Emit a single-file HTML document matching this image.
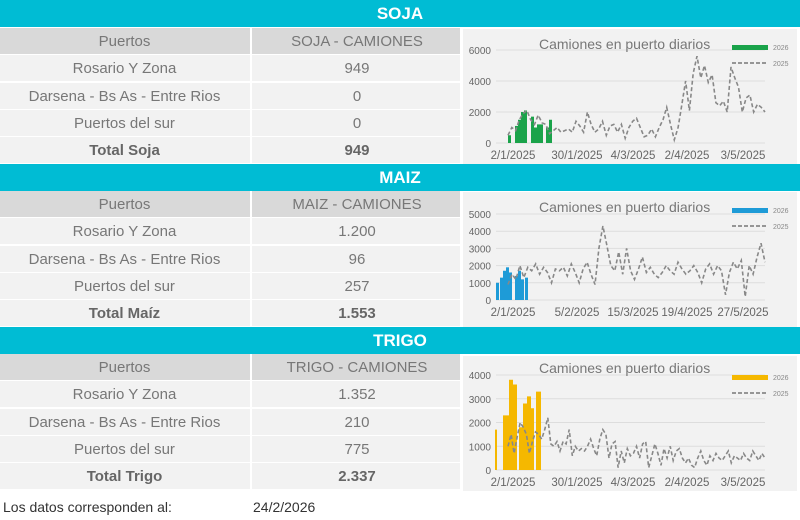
<!DOCTYPE html>
<html><head><meta charset="utf-8"><style>
body{margin:0;width:800px;height:520px;background:#fff;font-family:"Liberation Sans",sans-serif;position:relative;overflow:hidden}
.bar{position:absolute;left:0;width:800px;height:27px;background:#00bcd4;color:#fff;font-weight:bold;font-size:17px;line-height:28px}
.bar span{position:absolute;left:0;width:800px;text-align:center}
.row{position:absolute;left:0;width:460px;height:26px;font-size:15px;color:#777;line-height:27px;border-bottom:1px solid #fff;background:#f2f2f2}
.row div{position:absolute;top:0;text-align:center}
.row .a{left:0;width:249px}.row .b{left:250px;width:210px;border-left:2px solid #fff}
.hd{background:#d9d9d9;color:#777}
.tot{font-weight:bold;color:#666}
.chart{position:absolute;left:463px;width:334px;background:#f2f2f2}
svg text{font-family:"Liberation Sans",sans-serif}
</style></head><body>
<div class="bar" style="top:0"><span>SOJA</span></div>
<div class="bar" style="top:164px"><span>MAIZ</span></div>
<div class="bar" style="top:327px"><span>TRIGO</span></div>
<div id="tables"></div>
<div style="position:absolute;left:3px;top:499px;font-size:14px;color:#333">Los datos corresponden al:</div>
<div style="position:absolute;left:253px;top:499px;font-size:14px;color:#333">24/2/2026</div>
<div class="chart" style="top:29px;height:135px"><svg id="c1" width="334" height="135"></svg></div>
<div class="chart" style="top:192px;height:135px"><svg id="c2" width="334" height="135"></svg></div>
<div class="chart" style="top:356px;height:135px"><svg id="c3" width="334" height="135"></svg></div>
<script>
var T=[[28,"SOJA - CAMIONES",["949","0","0","949"],"Total Soja"],[191,"MAIZ - CAMIONES",["1.200","96","257","1.553"],"Total Maíz"],[354,"TRIGO - CAMIONES",["1.352","210","775","2.337"],"Total Trigo"]];
var names=["Rosario Y Zona","Darsena - Bs As - Entre Rios","Puertos del sur"];
var h="";
T.forEach(function(t){var y=t[0];
h+='<div class="row hd" style="top:'+y+'px"><div class="a">Puertos</div><div class="b">'+t[1]+'</div></div>';
for(var i=0;i<4;i++){y+=27.3;h+='<div class="row'+(i==3?' tot':'')+'" style="top:'+y+'px"><div class="a">'+(i==3?t[3]:names[i])+'</div><div class="b">'+t[2][i]+'</div></div>';}
});
document.getElementById("tables").innerHTML=h;
function chart(id,ticks,max,y0,y1,xl,col,vals,bars){
var s=document.getElementById(id),o="";var x0=33,x1=302;
ticks.forEach(function(v){var y=y0-(y0-y1)*v/max;o+='<line x1="'+x0+'" x2="'+x1+'" y1="'+y+'" y2="'+y+'" stroke="#ddd"/><text x="28" y="'+(y+4)+'" font-size="10" fill="#666" text-anchor="end">'+v+'</text>';});
var xs=[x0-8,x0+56,x0+112,x0+166,x0+222];xl.forEach(function(l,i){o+='<text x="'+(xs[i]+25)+'" y="'+(y0+16)+'" font-size="11.5" fill="#666" text-anchor="middle">'+l+'</text>';});
var p=[],n=vals.length-1;for(var i=0;i<=n;i++){p.push((x0+12+i*(x1-x0-12)/n).toFixed(1)+","+(y0-(y0-y1)*vals[i]/max).toFixed(1));}
bars.forEach(function(b){var bx=x0+b[0],w=b[1],v=b[2];o+='<rect x="'+bx+'" y="'+(y0-(y0-y1)*v/max)+'" width="'+w+'" height="'+((y0-y1)*v/max)+'" fill="'+col+'"/>';});
o+='<polyline points="'+p.join(" ")+'" fill="none" stroke="#888" stroke-width="1.6" stroke-dasharray="4,2.5"/>';
o+='<text x="76" y="'+(id=="c3"?17:20)+'" font-size="14" fill="#777">Camiones en puerto diarios</text>';
var ly=id=="c3"?19:16;o+='<rect x="269" y="'+ly+'" width="36" height="5" fill="'+col+'"/><text x="310" y="'+(ly+5)+'" font-size="7" fill="#888">2026</text>';
o+='<line x1="269" x2="305" y1="'+(ly+18)+'" y2="'+(ly+18)+'" stroke="#777" stroke-width="1.5" stroke-dasharray="4,2"/><text x="310" y="'+(ly+21)+'" font-size="7" fill="#888">2025</text>';
s.innerHTML=o;}
var xl1=["2/1/2025","30/1/2025","4/3/2025","2/4/2025","3/5/2025"];
chart("c1",[0,2000,4000,6000],6000,114,21,xl1,"#1aa34a",
[500,1000,800,1500,1900,2100,1500,1200,1800,1300,1200,600,800,1000,700,800,900,700,1400,1100,700,2000,1200,700,900,1400,500,1100,1200,700,1200,300,1000,1400,1600,1000,400,500,900,400,1000,1500,2300,1200,200,1000,2500,4000,2100,4500,5600,4200,5000,3900,4400,2600,2400,2700,2000,4900,4200,3600,2000,2900,3100,2000,2500,2300,2000],
[[12,3,500],[19,3,1100],[22,3,1500],[25,3,2000],[28,3,2100],[35,3,1700],[38,3,1000],[41,3,1200],[44,3,1200],[50,3,1000],[53,3,1500]]);
chart("c2",[0,1000,2000,3000,4000,5000],5000,108,22,["2/1/2025","5/2/2025","15/3/2025","19/4/2025","27/5/2025"],"#1e9bd7",
[900,1500,1200,2000,1300,1900,1700,2100,1500,1900,1600,1000,1800,1700,1900,1400,2100,1600,1000,1800,2200,1500,900,3000,4300,3200,2000,1700,2800,1500,3000,1700,1200,1800,2500,1600,1900,1500,1300,1600,2000,1700,1500,2200,1800,1500,1700,2000,1600,1000,1800,2100,1500,2000,1700,300,1600,2200,1800,2300,200,2000,1500,2500,3300,2200],
[[0,3,1000],[4,3,1300],[7,3,1700],[10,3,1900],[13,3,1600],[19,3,1400],[22,3,1700],[25,3,1200],[29,3,1300]]);
chart("c3",[0,1000,2000,3000,4000],4000,114,19,xl1,"#f5b800",
[1000,1500,700,1400,2000,1800,1500,700,1200,1600,1500,1300,1700,2200,1100,1000,1200,800,1200,1100,1700,600,1000,800,900,800,1000,1300,900,600,1300,1700,1500,500,1100,1200,100,800,300,900,600,700,1000,500,1100,1200,100,600,1100,700,200,900,500,1000,400,800,900,500,300,500,200,100,500,800,400,200,600,400,700,500,400,600,800,300,600,500,400,700,500,400,800,600,400,700,500],
[[-1,2,1700],[7,6,2300],[13,4,3800],[17,4,3600],[23,4,1800],[27,4,2800],[31,4,3100],[35,3,2600],[40,5,3300]]);
</script>
</body></html>
